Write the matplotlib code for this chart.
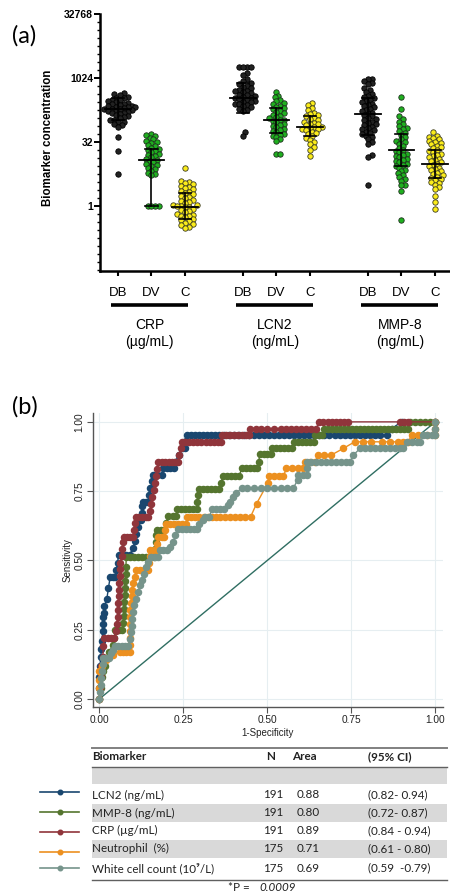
import numpy as np
import matplotlib
matplotlib.use("Agg")
import matplotlib.pyplot as plt
from matplotlib.transforms import blended_transform_factory
from matplotlib.ticker import NullFormatter
from matplotlib.patches import Rectangle

plt.rcParams['font.family'] = ['Liberation Sans', 'DejaVu Sans']

# ---------------- panel (a) data ----------------
groups = ["CRP", "LCN2", "MMP-8"]
group_units = ["(\u00b5g/mL)", "(ng/mL)", "(ng/mL)"]
subgroups = ["DB", "DV", "C"]

crp_db = [460, 430, 415, 375, 350, 338, 315, 304, 294, 274, 265, 256, 247, 239, 230, 223, 215, 208, 208,
          201, 194, 194, 187, 181, 174, 169, 163, 158, 152, 147, 137, 128, 124, 115, 108, 104, 97, 94, 87,
          79, 74, 42, 20, 5.7]
crp_dv = [48.5, 46.8, 45.3, 39.4, 36.8, 34.3, 32, 29.9, 27.9, 26, 23.4, 21.9, 21.1, 19.7, 18.4, 17.1, 16,
          14.9, 13.9, 13, 12.1, 11.3, 10.6, 9.8, 9.2, 8.6, 8, 7.5, 6.7, 6.1, 5.7, 5.3, 1, 1, 1, 1]
crp_c = [8.0, 3.86, 3.6, 3.48, 3.25, 3.03, 2.83, 2.64, 2.46, 2.3, 2.14, 2.0, 1.87, 1.74, 1.62, 1.52, 1.41,
         1.32, 1.23, 1.15, 1.07, 1.03, 1.0, 1.0, 0.97, 0.93, 0.87, 0.81, 0.76, 0.71, 0.66, 0.62, 0.59, 0.57,
         0.54, 0.5, 0.47, 0.44, 0.41, 0.38, 0.35, 0.33, 0.31]
lcn2_db = [1860, 1860, 1860, 1860, 1350, 1176, 955, 861, 776, 724, 676, 630, 588, 549, 512, 495, 478, 446,
           416, 402, 388, 362, 350, 338, 326, 315, 294, 284, 274, 256, 247, 239, 223, 208, 194, 181, 169,
           54, 44]
lcn2_dv = [478, 388, 362, 315, 294, 265, 247, 231, 215, 201, 187, 175, 163, 152, 142, 132, 124, 115, 108,
           104, 100, 94, 87, 82, 76, 71, 66, 62, 58, 54, 50, 47, 44, 41, 37, 33, 16.6, 16.6]
lcn2_c = [265, 239, 201, 181, 158, 147, 137, 128, 119, 111, 104, 97, 91, 87, 84, 79, 74, 71, 69, 66, 64, 60,
          56, 52, 49, 44, 39, 36, 32, 29, 24, 21, 15]
mmp8_db = [989, 955, 891, 776, 750, 588, 549, 478, 431, 388, 362, 338, 315, 294, 274, 256, 239, 223, 208,
           194, 181, 169, 158, 147, 137, 128, 119, 111, 104, 97, 91, 84, 79, 74, 69, 64, 60, 56, 52, 49, 45,
           41, 37, 32, 28, 16, 14, 3.1]
mmp8_dv = [375, 194, 128, 111, 97, 84, 76, 69, 64, 58, 52, 47, 42, 38, 34, 32, 29, 26, 23, 21, 19.7, 18.4,
           17.1, 16, 14.9, 13.9, 13, 12.1, 11.3, 10.6, 9.8, 9.2, 8.6, 8, 7.2, 6.5, 5.9, 5.3, 4.8, 4.3, 3.9,
           3.2, 3.1, 2.2, 0.48]
mmp8_c = [54, 45, 42, 39, 37, 34, 32, 30, 28, 26, 24, 23, 21, 19.7, 18.4, 17.1, 16, 14.9, 13.9, 13, 12.1,
          11.3, 10.6, 9.8, 9.2, 8.6, 8, 7.5, 7, 6.5, 6.1, 5.7, 5.3, 4.9, 4.6, 4.3, 4, 3.7, 3.5, 3.1, 2.8,
          2.5, 1.74, 1.23, 0.84]

# mean, lower (mean-SD), upper (mean+SD)
crp_stats = [(195, 108, 347), (11.8, 1.0, 21.4), (0.95, 0.5, 2.06)]
lcn2_stats = [(347, 158, 776), (103, 52, 202), (71.5, 43.7, 129)]
mmp8_stats = [(146, 47.8, 347), (20.5, 8.6, 48.5), (9.85, 4.6, 21.3)]

y_major = [1, 32, 1024, 32768]

# ---------------- panel (b) data ----------------
lcn2_roc = [(0, 0), (0.0, 0.04), (0.0, 0.08), (0.002, 0.12), (0.004, 0.15), (0.006, 0.18), (0.008, 0.21),
            (0.01, 0.245), (0.011, 0.27), (0.012, 0.295), (0.013, 0.31), (0.015, 0.335), (0.022, 0.36),
            (0.027, 0.40), (0.032, 0.44), (0.040, 0.44), (0.047, 0.44), (0.05, 0.465), (0.054, 0.49),
            (0.057, 0.52), (0.068, 0.52), (0.08, 0.52), (0.09, 0.52), (0.1, 0.545), (0.106, 0.57),
            (0.11, 0.595), (0.114, 0.62), (0.116, 0.645), (0.124, 0.645), (0.126, 0.67), (0.128, 0.695),
            (0.13, 0.71), (0.14, 0.71), (0.146, 0.71), (0.148, 0.735), (0.15, 0.76), (0.156, 0.76),
            (0.158, 0.785), (0.16, 0.808), (0.172, 0.808), (0.185, 0.808), (0.19, 0.832), (0.2, 0.832),
            (0.21, 0.832), (0.222, 0.832), (0.226, 0.856), (0.236, 0.88), (0.245, 0.905), (0.256, 0.905),
            (0.258, 0.93), (0.26, 0.953), (0.272, 0.953), (0.284, 0.953), (0.296, 0.953), (0.308, 0.953),
            (0.32, 0.953), (0.332, 0.953), (0.344, 0.953), (0.356, 0.953), (0.37, 0.953), (0.385, 0.953),
            (0.40, 0.953), (0.415, 0.953), (0.43, 0.953), (0.445, 0.953), (0.46, 0.953), (0.475, 0.953),
            (0.49, 0.953), (0.505, 0.953), (0.52, 0.953), (0.535, 0.953), (0.55, 0.953), (0.565, 0.953),
            (0.58, 0.953), (0.595, 0.953), (0.61, 0.953), (0.625, 0.953), (0.64, 0.953), (0.655, 0.953),
            (0.67, 0.953), (0.685, 0.953), (0.70, 0.953), (0.715, 0.953), (0.73, 0.953), (0.745, 0.953),
            (0.76, 0.953), (0.775, 0.953), (0.79, 0.953), (0.805, 0.953), (0.82, 0.953), (0.835, 0.953),
            (0.855, 0.953), (0.87, 0.976), (0.90, 1.0), (1.0, 1.0)]
mmp8_roc = [(0, 0), (0.004, 0.04), (0.008, 0.08), (0.012, 0.10), (0.016, 0.12), (0.02, 0.145), (0.03, 0.17),
            (0.04, 0.195), (0.045, 0.22), (0.047, 0.25), (0.057, 0.25), (0.067, 0.25), (0.07, 0.275),
            (0.072, 0.30), (0.073, 0.325), (0.074, 0.35), (0.075, 0.375), (0.076, 0.40), (0.077, 0.425),
            (0.078, 0.45), (0.079, 0.475), (0.08, 0.513), (0.092, 0.513), (0.104, 0.513), (0.116, 0.513),
            (0.128, 0.513), (0.14, 0.513), (0.152, 0.513), (0.162, 0.513), (0.165, 0.54), (0.168, 0.565),
            (0.17, 0.59), (0.172, 0.61), (0.184, 0.61), (0.192, 0.61), (0.198, 0.635), (0.205, 0.66),
            (0.218, 0.66), (0.228, 0.66), (0.232, 0.687), (0.244, 0.687), (0.256, 0.687), (0.268, 0.687),
            (0.28, 0.687), (0.29, 0.687), (0.292, 0.71), (0.294, 0.735), (0.296, 0.756), (0.308, 0.756),
            (0.32, 0.756), (0.332, 0.756), (0.344, 0.756), (0.356, 0.756), (0.362, 0.78), (0.368, 0.805),
            (0.38, 0.805), (0.392, 0.805), (0.404, 0.805), (0.416, 0.805), (0.424, 0.832), (0.436, 0.832),
            (0.448, 0.832), (0.46, 0.832), (0.47, 0.832), (0.474, 0.856), (0.478, 0.883), (0.49, 0.883),
            (0.5, 0.883), (0.51, 0.883), (0.514, 0.904), (0.526, 0.904), (0.538, 0.904), (0.55, 0.904),
            (0.562, 0.904), (0.574, 0.904), (0.578, 0.928), (0.59, 0.928), (0.602, 0.928), (0.614, 0.928),
            (0.626, 0.928), (0.638, 0.928), (0.642, 0.954), (0.654, 0.954), (0.664, 0.954), (0.668, 0.976),
            (0.68, 0.976), (0.692, 0.976), (0.704, 0.976), (0.716, 0.976), (0.728, 0.976), (0.74, 0.976),
            (0.752, 0.976), (0.764, 0.976), (0.776, 0.976), (0.788, 0.976), (0.80, 0.976), (0.812, 0.976),
            (0.824, 0.976), (0.836, 0.976), (0.848, 0.976), (0.86, 0.976), (0.872, 0.976), (0.884, 0.976),
            (0.896, 0.976), (0.908, 0.976), (0.92, 0.976), (0.925, 1.0), (0.94, 1.0), (0.955, 1.0),
            (0.97, 1.0), (0.985, 1.0), (1.0, 1.0)]
crp_roc = [(0, 0), (0.002, 0.04), (0.004, 0.08), (0.006, 0.12), (0.010, 0.15), (0.012, 0.19), (0.015, 0.22),
           (0.025, 0.22), (0.035, 0.22), (0.045, 0.22), (0.05, 0.245), (0.052, 0.27), (0.054, 0.295),
           (0.055, 0.32), (0.056, 0.345), (0.057, 0.37), (0.058, 0.395), (0.059, 0.42), (0.06, 0.445),
           (0.06, 0.47), (0.062, 0.49), (0.066, 0.515), (0.068, 0.54), (0.07, 0.565), (0.072, 0.585),
           (0.082, 0.585), (0.092, 0.585), (0.10, 0.585), (0.102, 0.61), (0.105, 0.635), (0.108, 0.657),
           (0.118, 0.657), (0.128, 0.657), (0.138, 0.657), (0.146, 0.657), (0.15, 0.68), (0.155, 0.705),
           (0.158, 0.73), (0.162, 0.755), (0.166, 0.78), (0.17, 0.805), (0.173, 0.83), (0.176, 0.856),
           (0.186, 0.856), (0.196, 0.856), (0.206, 0.856), (0.216, 0.856), (0.226, 0.856), (0.235, 0.856),
           (0.238, 0.88), (0.242, 0.905), (0.245, 0.929), (0.256, 0.929), (0.268, 0.929), (0.28, 0.929),
           (0.292, 0.929), (0.304, 0.929), (0.316, 0.929), (0.328, 0.929), (0.34, 0.929), (0.352, 0.929),
           (0.362, 0.929), (0.364, 0.953), (0.376, 0.953), (0.388, 0.953), (0.40, 0.953), (0.412, 0.953),
           (0.424, 0.953), (0.436, 0.953), (0.446, 0.953), (0.448, 0.976), (0.465, 0.976), (0.48, 0.976),
           (0.50, 0.976), (0.52, 0.976), (0.54, 0.976), (0.555, 0.976), (0.57, 0.976), (0.585, 0.976),
           (0.60, 0.976), (0.615, 0.976), (0.63, 0.976), (0.645, 0.976), (0.655, 1.0), (0.667, 1.0),
           (0.68, 1.0), (0.692, 1.0), (0.704, 1.0), (0.716, 1.0), (0.728, 1.0), (0.74, 1.0), (0.895, 1.0),
           (0.907, 1.0), (0.92, 1.0), (1.0, 1.0)]
neut_roc = [(0, 0), (0.0, 0.04), (0.0, 0.07), (0.0, 0.10), (0.008, 0.12), (0.02, 0.14), (0.04, 0.16),
            (0.06, 0.171), (0.07, 0.171), (0.08, 0.171), (0.09, 0.171), (0.09, 0.195), (0.09, 0.22),
            (0.09, 0.245), (0.09, 0.27), (0.09, 0.295), (0.092, 0.32), (0.094, 0.345), (0.096, 0.37),
            (0.098, 0.395), (0.10, 0.42), (0.105, 0.44), (0.11, 0.465), (0.122, 0.465), (0.134, 0.465),
            (0.146, 0.465), (0.148, 0.49), (0.15, 0.515), (0.152, 0.537), (0.162, 0.537), (0.17, 0.537),
            (0.172, 0.56), (0.175, 0.585), (0.185, 0.585), (0.193, 0.585), (0.195, 0.61), (0.197, 0.633),
            (0.209, 0.633), (0.221, 0.633), (0.233, 0.633), (0.245, 0.633), (0.258, 0.633), (0.262, 0.657),
            (0.274, 0.657), (0.286, 0.657), (0.298, 0.657), (0.31, 0.657), (0.322, 0.657), (0.334, 0.657),
            (0.346, 0.657), (0.36, 0.657), (0.375, 0.657), (0.39, 0.657), (0.405, 0.657), (0.42, 0.657),
            (0.435, 0.657), (0.45, 0.657), (0.468, 0.705), (0.502, 0.78), (0.505, 0.805), (0.52, 0.805),
            (0.535, 0.805), (0.548, 0.805), (0.557, 0.832), (0.572, 0.832), (0.59, 0.832), (0.607, 0.832),
            (0.612, 0.856), (0.628, 0.856), (0.642, 0.856), (0.652, 0.88), (0.668, 0.88), (0.69, 0.88),
            (0.726, 0.904), (0.76, 0.928), (0.785, 0.928), (0.81, 0.928), (0.84, 0.928), (0.865, 0.928),
            (0.89, 0.928), (0.905, 0.928), (0.92, 0.928), (0.93, 0.954), (0.95, 0.954), (0.975, 0.954),
            (1.0, 0.954), (1.0, 0.976), (1.0, 1.0)]
wcc_roc = [(0, 0), (0.002, 0.025), (0.004, 0.05), (0.006, 0.075), (0.008, 0.10), (0.01, 0.125), (0.012, 0.147),
           (0.022, 0.147), (0.03, 0.147), (0.034, 0.165), (0.04, 0.177), (0.046, 0.19), (0.056, 0.19),
           (0.066, 0.19), (0.076, 0.19), (0.086, 0.19), (0.09, 0.215), (0.093, 0.24), (0.096, 0.265),
           (0.098, 0.29), (0.10, 0.315), (0.104, 0.34), (0.11, 0.36), (0.116, 0.385), (0.12, 0.41),
           (0.126, 0.43), (0.132, 0.45), (0.138, 0.475), (0.145, 0.495), (0.155, 0.513), (0.165, 0.513),
           (0.175, 0.513), (0.18, 0.537), (0.19, 0.537), (0.2, 0.537), (0.21, 0.55), (0.22, 0.565),
           (0.226, 0.59), (0.235, 0.613), (0.246, 0.613), (0.258, 0.613), (0.27, 0.613), (0.282, 0.613),
           (0.29, 0.613), (0.296, 0.633), (0.308, 0.645), (0.315, 0.657), (0.327, 0.657), (0.336, 0.687),
           (0.348, 0.687), (0.36, 0.687), (0.372, 0.687), (0.382, 0.70), (0.39, 0.712), (0.398, 0.728),
           (0.408, 0.745), (0.424, 0.76), (0.44, 0.76), (0.46, 0.76), (0.48, 0.76), (0.50, 0.76),
           (0.52, 0.76), (0.54, 0.76), (0.56, 0.76), (0.577, 0.76), (0.59, 0.79), (0.59, 0.808),
           (0.605, 0.808), (0.617, 0.808), (0.617, 0.832), (0.617, 0.856), (0.63, 0.856), (0.645, 0.856),
           (0.66, 0.856), (0.675, 0.856), (0.69, 0.856), (0.705, 0.856), (0.72, 0.856), (0.735, 0.856),
           (0.746, 0.856), (0.756, 0.88), (0.776, 0.904), (0.79, 0.904), (0.805, 0.904), (0.82, 0.904),
           (0.835, 0.904), (0.85, 0.904), (0.865, 0.904), (0.88, 0.904), (0.895, 0.904), (0.905, 0.904),
           (0.915, 0.928), (0.93, 0.928), (0.945, 0.928), (0.954, 0.928), (0.962, 0.954), (0.976, 0.954),
           (0.99, 0.954), (1.0, 0.954), (1.0, 0.976), (1.0, 1.0)]

roc_names = ["LCN2 (ng/mL)", "MMP-8 (ng/mL)", "CRP (\u00b5g/mL)", "Neutrophil  (%)",
             "White cell count (10\u2079/L)"]
roc_n = [191, 191, 191, 175, 175]
roc_area = ["0.88", "0.80", "0.89", "0.71", "0.69"]
roc_ci = ["(0.82- 0.94)", "(0.72- 0.87)", "(0.84 - 0.94)", "(0.61 - 0.80)", "(0.59  -0.79)"]
roc_colors = ["#1a476f", "#55752f", "#90353b", "#ec9020", "#76948b"]
roc_curves = [lcn2_roc, mmp8_roc, crp_roc, neut_roc, wcc_roc]
p_value = "0.0009"

# ---------------- figure ----------------
W, H = 450, 894
fig = plt.figure(figsize=(W / 100, H / 100), dpi=100)

# overlay axes in pixel coordinates for free annotations / table
axT = fig.add_axes([0, 0, 1, 1])
axT.set_xlim(0, W)
axT.set_ylim(H, 0)
axT.axis('off')
axT.patch.set_alpha(0)

# ---------- panel (a) ----------
ax1 = fig.add_axes([100 / W, 1 - 270.7 / H, 350 / W, (270.7 - 14) / H])
ax1.set_yscale('log', base=2)
ax1.set_ylim(2 ** -5.05, 2 ** 15)
ax1.set_xlim(-0.537, 9.91)

group_start = [0.0, 3.73, 7.46]
data_sets = [[crp_db, crp_dv, crp_c], [lcn2_db, lcn2_dv, lcn2_c], [mmp8_db, mmp8_dv, mmp8_c]]
stats_sets = [crp_stats, lcn2_stats, mmp8_stats]
fills = ["#222222", "#1fb01f", "#fbec1a"]
edges = ["#000000", "#1c2e1c", "#3a3a20"]

XPX = 33.5   # px per x unit
YPX = 12.8   # px per log2 unit
DOT = 5.4    # dot diameter in px


def swarm_offsets(vals, d=DOT):
    y = np.log2(np.asarray(vals, float)) * YPX
    order = np.argsort(y)
    step = 0.36 * d
    cands = [0.0]
    for k in range(1, 60):
        cands += [k * step, -k * step]
    px_l, py_l = [], []
    out = np.zeros(len(y))
    lim = (0.72 * d) ** 2
    for i in order:
        chosen = cands[-1]
        for c in cands:
            ok = True
            for qx, qy in zip(px_l, py_l):
                if (qx - c) ** 2 + (qy - y[i]) ** 2 < lim:
                    ok = False
                    break
            if ok:
                chosen = c
                break
        out[i] = chosen
        px_l.append(chosen)
        py_l.append(y[i])
    return out / XPX


positions = []
for g, gs in enumerate(group_start):
    for s in range(3):
        x0 = gs + s
        positions.append(x0)
        vals = data_sets[g][s]
        xo = swarm_offsets(vals)
        ax1.scatter(x0 + xo, vals, s=(DOT / 1.389) ** 2, c=fills[s], edgecolors=edges[s],
                    linewidths=0.6, zorder=3, clip_on=False)
        m, lo, hi = stats_sets[g][s]
        ax1.plot([x0 - 0.38, x0 + 0.38], [m, m], color='k', lw=1.3, zorder=4)
        ax1.plot([x0, x0], [lo, hi], color='k', lw=1.2, zorder=4)
        for v in (lo, hi):
            ax1.plot([x0 - 0.18, x0 + 0.18], [v, v], color='k', lw=1.2, zorder=4)

for s in ['top', 'right']:
    ax1.spines[s].set_visible(False)
for s in ['left', 'bottom']:
    ax1.spines[s].set_linewidth(1.8)
ax1.set_xticks(positions)
ax1.set_xticklabels([])
ax1.tick_params(axis='x', length=3.5, width=1.5, direction='out')
ax1.set_yticks(y_major)
ax1.set_yticklabels([str(v) for v in y_major], fontsize=7.5, fontweight='bold')
ax1.set_yticks(2.0 ** np.arange(-5, 15.01, 0.625), minor=True)
ax1.yaxis.set_minor_formatter(NullFormatter())
ax1.tick_params(axis='y', which='major', length=4, width=1.4, direction='out', pad=1)
ax1.tick_params(axis='y', which='minor', length=2.5, width=1.0, direction='out')

tr = blended_transform_factory(ax1.transData, ax1.transAxes)
for g, gs in enumerate(group_start):
    for s in range(3):
        ax1.text(gs + s, -0.0857, subgroups[s], transform=tr, ha='center', va='center', fontsize=9.5,
                 clip_on=False)
    ax1.plot([gs - 0.2, gs + 2.1], [-0.1336, -0.1336], transform=tr, color='k', lw=2.6,
             solid_capstyle='butt', clip_on=False)
    ax1.text(gs + 0.95, -0.2115, groups[g], transform=tr, ha='center', va='center', fontsize=10,
             clip_on=False)
    ax1.text(gs + 0.95, -0.279, group_units[g], transform=tr, ha='center', va='center', fontsize=10,
             clip_on=False)

axT.text(48, 138, "Biomarker concentration", rotation=90, ha='center', va='center', fontsize=8.3,
         fontweight='bold')
axT.text(12, 35.5, "(a)", ha='left', va='center', fontsize=17, family=['Lato', 'DejaVu Sans'])
axT.text(12, 407, "(b)", ha='left', va='center', fontsize=17, family=['Lato', 'DejaVu Sans'])

# ---------- panel (b) ----------
ax2 = fig.add_axes([93 / W, 1 - 707 / H, 350 / W, 294 / H])
ax2.set_xlim(-0.019, 1.023)
ax2.set_ylim(-0.029, 1.032)
ticks = [0, 0.25, 0.5, 0.75, 1.0]
tlabels = ["0.00", "0.25", "0.50", "0.75", "1.00"]
ax2.set_xticks(ticks)
ax2.set_xticklabels(tlabels)
ax2.set_yticks(ticks)
ax2.set_yticklabels(tlabels)
ax2.grid(True, color='#e6eef1', lw=0.8)
ax2.set_axisbelow(True)
for s in ['top', 'right']:
    ax2.spines[s].set_visible(False)
for s in ['left', 'bottom']:
    ax2.spines[s].set_color('#555555')
    ax2.spines[s].set_linewidth(1.0)
ax2.tick_params(direction='out', length=4, width=0.8, colors='#555555', labelcolor='#222222',
                labelsize=7.3, pad=2)
for lab in ax2.get_yticklabels():
    lab.set_rotation(90)
    lab.set_va('center')

ax2.plot([0, 1], [0, 1], color='#2f6e62', lw=1.0, zorder=2)
for curve, col in zip(roc_curves, roc_colors):
    xs = [p[0] for p in curve]
    ys = [p[1] for p in curve]
    ax2.plot(xs, ys, '-o', color=col, lw=1.0, ms=4.4, mec=col, mfc=col, zorder=3, clip_on=False)

axT.text(68, 560, "Sensitivity", rotation=90, ha='center', va='center', fontsize=7, color='#222222')
axT.text(267, 733, "1-Specificity", ha='center', va='center', fontsize=7, color='#222222')

# ---------- table ----------
tfont = ['Lato', 'DejaVu Sans']
tsize = 8.4
tcol = '#222222'
axT.add_patch(Rectangle((92, 767), 355, 17, color='#d9d9d9', lw=0))
axT.add_patch(Rectangle((92, 804), 355, 18, color='#d9d9d9', lw=0))
axT.add_patch(Rectangle((92, 839.5), 355, 18, color='#d9d9d9', lw=0))
axT.plot([92, 447], [748.3, 748.3], color='#808080', lw=1.4)
axT.plot([92, 447], [766.5, 766.5], color='#606060', lw=1.0)
axT.plot([92, 447], [880, 880], color='#606060', lw=1.0)

axT.text(92, 757, "Biomarker", ha='left', va='center', fontsize=tsize, fontweight='bold', family=tfont,
         color=tcol)
axT.text(271, 757, "N", ha='center', va='center', fontsize=tsize, fontweight='bold', family=tfont, color=tcol)
axT.text(292, 757, "Area", ha='left', va='center', fontsize=tsize, fontweight='bold', family=tfont, color=tcol)
axT.text(368, 757, "(95% CI)", ha='left', va='center', fontsize=tsize, fontweight='bold', family=tfont,
         color=tcol)

row_y = [795, 813, 830.7, 848.4, 868]
leg_y = [792, 811.5, 832, 851.5, 868]
for i in range(5):
    y = row_y[i]
    axT.text(92, y, roc_names[i], ha='left', va='center', fontsize=tsize, family=tfont, color=tcol)
    axT.text(273.5, y, str(roc_n[i]), ha='center', va='center', fontsize=tsize, family=tfont, color=tcol)
    axT.text(296.5, y, roc_area[i], ha='left', va='center', fontsize=tsize, family=tfont, color=tcol)
    axT.text(368, y, roc_ci[i], ha='left', va='center', fontsize=tsize, family=tfont, color=tcol)
    axT.plot([40, 79], [leg_y[i], leg_y[i]], color=roc_colors[i], lw=1.2)
    axT.plot([60], [leg_y[i]], 'o', color=roc_colors[i], ms=3.3)

axT.text(250, 887.7, "*P =", ha='right', va='center', fontsize=tsize, family=tfont, color=tcol)
axT.text(259, 887.7, p_value, ha='left', va='center', fontsize=tsize, family=tfont, style='italic',
         color=tcol)

fig.savefig("out.png", dpi=100)
